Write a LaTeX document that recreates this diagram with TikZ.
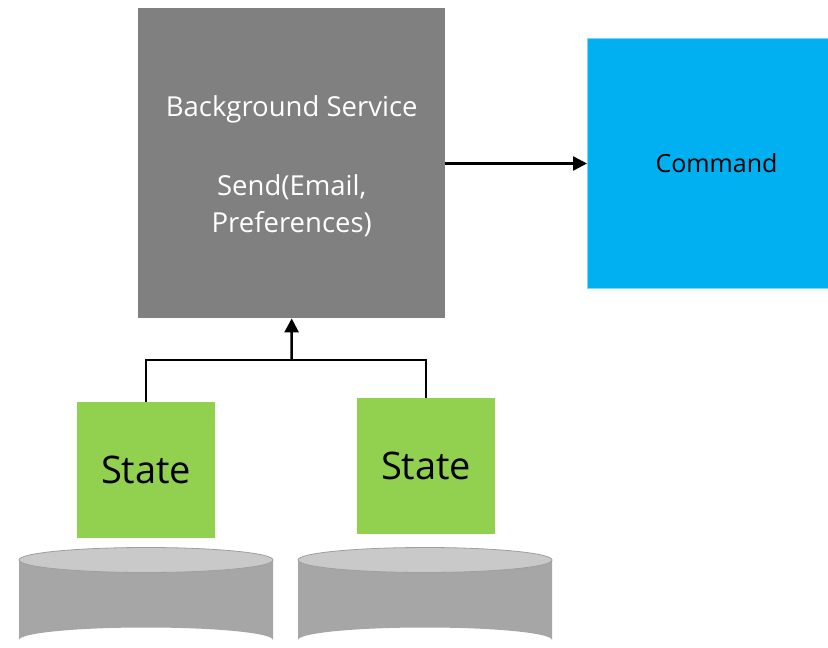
\documentclass[tikz,border=0pt]{standalone}
\usepackage{fontspec}
\setmainfont{Open Sans}
\usetikzlibrary{arrows.meta}
\definecolor{svcgray}{HTML}{808080}
\definecolor{cmdblue}{HTML}{00B0F0}
\definecolor{cmdedge}{HTML}{7FD7F7}
\definecolor{stategreen}{HTML}{92D050}
\definecolor{cylside}{HTML}{A6A6A6}
\definecolor{cyltop}{HTML}{C9C9C9}
\definecolor{cyledge}{HTML}{9E9E9E}
\tikzset{
  box/.style={rectangle, inner sep=0pt, anchor=north west, align=center},
  service/.style={box, fill=svcgray, minimum width=307pt, minimum height=310pt},
  servicetext/.style={text=white, align=center, font=\fontsize{27.5}{37}\selectfont},
  command/.style={box, fill=cmdblue, draw=cmdedge, line width=1pt, minimum width=258pt,
    minimum height=250pt, font=\fontsize{25}{30}\selectfont},
  statebox/.style={box, fill=stategreen, minimum width=138pt, minimum height=136pt,
    font=\fontsize{38}{44}\selectfont},
  link/.style={line width=2.5pt},
  flow/.style={link, -{Triangle[length=14pt, width=14pt]}},
}
\newcommand{\dbcyl}[2]{% left x, width
  \fill[cylside] (#1,560) -- (#1,640) arc[start angle=180, end angle=360, x radius=#2/2, y radius=12.5]
    -- (#1+#2,560) -- cycle;
  \filldraw[fill=cyltop, draw=cyledge, line width=0.8pt] (#1+#2/2,560) ellipse[x radius=#2/2, y radius=12.5];
}
\begin{document}
\begin{tikzpicture}[x=1pt, y=-1pt]
  \useasboundingbox (0,0) rectangle (828,648);
  \clip (0,0) rectangle (828,648);

  % storage cylinders
  \dbcyl{19}{254}
  \dbcyl{298}{254}

  % blocks
  \node[service] (bg) at (138,8) {};
  \node[servicetext] (bgtext) at ([yshift=-3pt]bg.center)
    {Background Service\\[42pt]Send(Email,\\Preferences)};
  \node[command] (cmd) at (587,38) {Command};
  \node[statebox] (s1) at (77,402) {State};
  \node[statebox] (s2) at (357,398) {State};

  % connectors
  \coordinate (jn) at (291.5,360);
  \draw[link] (s1.north) |- (jn) -| (s2.north);
  \draw[flow] (jn) -- (bg.south);
  \draw[flow] (bg.east |- cmd.west) -- (cmd.west);
\end{tikzpicture}
\end{document}
